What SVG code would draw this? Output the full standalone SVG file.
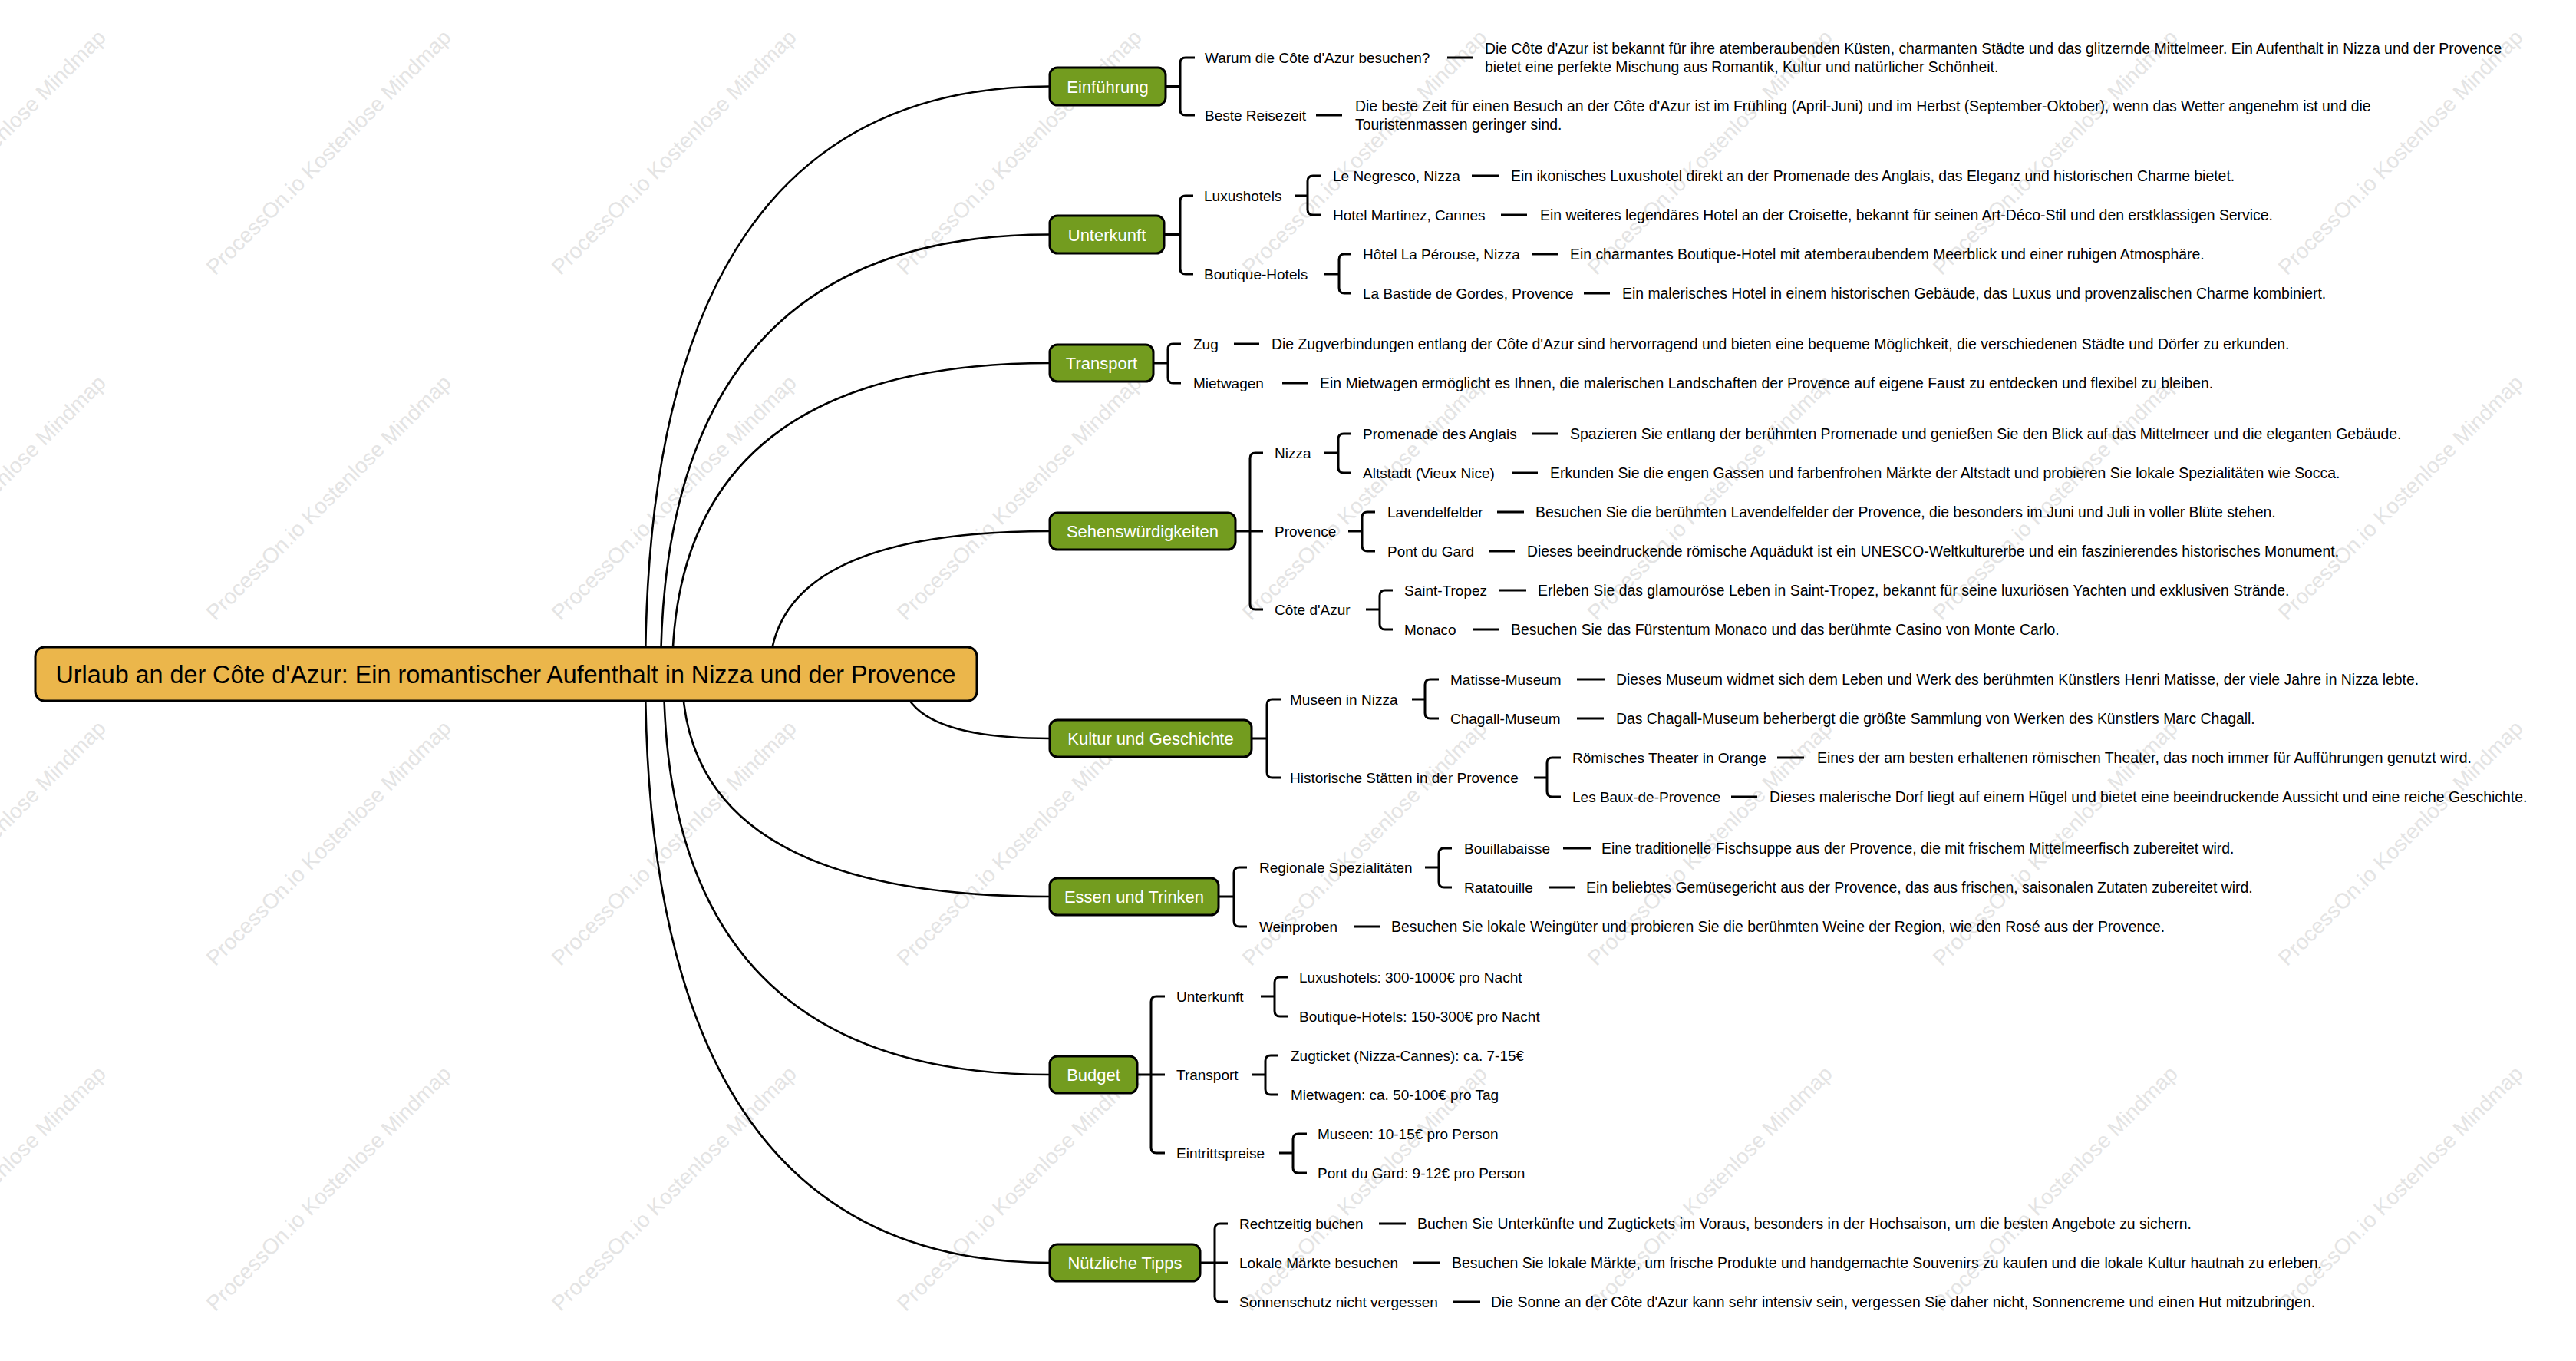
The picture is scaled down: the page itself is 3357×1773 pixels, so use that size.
<svg xmlns="http://www.w3.org/2000/svg" width="3357" height="1773" viewBox="0 0 3357 1773">
<style>
.bg{fill:#fff}
.wm{font-family:"Liberation Sans",Arial,sans-serif;font-size:28px;fill:#e4e4e4;text-anchor:middle}
.cv{fill:none;stroke:#000;stroke-width:2.6}
.ln{fill:none;stroke:#000;stroke-width:3}
.t{font-family:"Liberation Sans",Arial,sans-serif;font-size:19px;fill:#000}
.d{font-family:"Liberation Sans",Arial,sans-serif;font-size:19.4px;fill:#000}
.bx{fill:#739C1F;stroke:#000;stroke-width:3}
.bt{font-family:"Liberation Sans",Arial,sans-serif;font-size:22px;fill:#fff;text-anchor:middle}
.rx{fill:#EBB64B;stroke:#000;stroke-width:3}
.rt{font-family:"Liberation Sans",Arial,sans-serif;font-size:32.3px;fill:#000;text-anchor:middle}
</style>
<defs>
<text id="wmt" class="wm">ProcessOn.io Kostenlose Mindmap</text>
</defs>
<rect class="bg" x="0" y="0" width="3357" height="1773"/>
<g id="watermarks">
<use href="#wmt" transform="translate(-15 205) rotate(-45)"/>
<use href="#wmt" transform="translate(435 205) rotate(-45)"/>
<use href="#wmt" transform="translate(885 205) rotate(-45)"/>
<use href="#wmt" transform="translate(1335 205) rotate(-45)"/>
<use href="#wmt" transform="translate(1785 205) rotate(-45)"/>
<use href="#wmt" transform="translate(2235 205) rotate(-45)"/>
<use href="#wmt" transform="translate(2685 205) rotate(-45)"/>
<use href="#wmt" transform="translate(3135 205) rotate(-45)"/>
<use href="#wmt" transform="translate(-15 655) rotate(-45)"/>
<use href="#wmt" transform="translate(435 655) rotate(-45)"/>
<use href="#wmt" transform="translate(885 655) rotate(-45)"/>
<use href="#wmt" transform="translate(1335 655) rotate(-45)"/>
<use href="#wmt" transform="translate(1785 655) rotate(-45)"/>
<use href="#wmt" transform="translate(2235 655) rotate(-45)"/>
<use href="#wmt" transform="translate(2685 655) rotate(-45)"/>
<use href="#wmt" transform="translate(3135 655) rotate(-45)"/>
<use href="#wmt" transform="translate(-15 1105) rotate(-45)"/>
<use href="#wmt" transform="translate(435 1105) rotate(-45)"/>
<use href="#wmt" transform="translate(885 1105) rotate(-45)"/>
<use href="#wmt" transform="translate(1335 1105) rotate(-45)"/>
<use href="#wmt" transform="translate(1785 1105) rotate(-45)"/>
<use href="#wmt" transform="translate(2235 1105) rotate(-45)"/>
<use href="#wmt" transform="translate(2685 1105) rotate(-45)"/>
<use href="#wmt" transform="translate(3135 1105) rotate(-45)"/>
<use href="#wmt" transform="translate(-15 1555) rotate(-45)"/>
<use href="#wmt" transform="translate(435 1555) rotate(-45)"/>
<use href="#wmt" transform="translate(885 1555) rotate(-45)"/>
<use href="#wmt" transform="translate(1335 1555) rotate(-45)"/>
<use href="#wmt" transform="translate(1785 1555) rotate(-45)"/>
<use href="#wmt" transform="translate(2235 1555) rotate(-45)"/>
<use href="#wmt" transform="translate(2685 1555) rotate(-45)"/>
<use href="#wmt" transform="translate(3135 1555) rotate(-45)"/>
</g>
<g id="connectors">
<path class="cv" d="M841 878 Q841 112.5 1368 112.5"/>
<path class="cv" d="M861 878 Q861 305.5 1368 305.5"/>
<path class="cv" d="M876 878 Q876 473 1368 473"/>
<path class="cv" d="M1003 878 Q1003 692 1368 692"/>
<path class="cv" d="M1175 878 Q1175 962 1368 962"/>
<path class="cv" d="M889 878 Q889 1168 1368 1168"/>
<path class="cv" d="M865 878 Q865 1400 1368 1400"/>
<path class="cv" d="M841 878 Q841 1645 1368 1645"/>
<path class="ln" d="M1519 112.5H1538M1557 75H1545Q1538 75 1538 82V143Q1538 150 1545 150H1557"/>
<path class="ln" d="M1886 75H1920M1715 150H1749"/>
<path class="ln" d="M1517 305.5H1538M1555 255H1545Q1538 255 1538 262V350Q1538 357 1545 357H1555"/>
<path class="ln" d="M1687 255H1704M1721 229H1711Q1704 229 1704 236V273Q1704 280 1711 280H1721"/>
<path class="ln" d="M1726 357H1745M1761 331H1752Q1745 331 1745 338V375Q1745 382 1752 382H1761"/>
<path class="ln" d="M1918 229H1953M1956 280H1990M1997 331H2031M2064 382H2098"/>
<path class="ln" d="M1503 473H1522M1539 448H1529Q1522 448 1522 455V492Q1522 499 1529 499H1539"/>
<path class="ln" d="M1608 448H1641M1671 499H1704"/>
<path class="ln" d="M1610 692H1629M1646 590H1636Q1629 590 1629 597V787Q1629 794 1636 794H1646M1629 692H1646"/>
<path class="ln" d="M1726 590H1744M1761 565H1751Q1744 565 1744 572V609Q1744 616 1751 616H1761"/>
<path class="ln" d="M1757 692H1775M1792 667H1782Q1775 667 1775 674V711Q1775 718 1782 718H1792"/>
<path class="ln" d="M1780 794H1798M1815 769H1805Q1798 769 1798 776V813Q1798 820 1805 820H1815"/>
<path class="ln" d="M1997 565H2031M1970 616H2004M1951 667H1986M1940 718H1974M1954 769H1989M1919 820H1953"/>
<path class="ln" d="M1631 962H1651M1669 911H1658Q1651 911 1651 918V1006Q1651 1013 1658 1013H1669"/>
<path class="ln" d="M1840 911H1857M1875 885H1864Q1857 885 1857 892V929Q1857 936 1864 936H1875"/>
<path class="ln" d="M1999 1013H2016M2034 987H2023Q2016 987 2016 994V1031Q2016 1038 2023 1038H2034"/>
<path class="ln" d="M2055 885H2091M2055 936H2090M2316 987H2351M2256 1038H2290"/>
<path class="ln" d="M1588 1168H1608M1625 1130H1615Q1608 1130 1608 1137V1200Q1608 1207 1615 1207H1625"/>
<path class="ln" d="M1857 1130H1875M1892 1105H1882Q1875 1105 1875 1112V1149Q1875 1156 1882 1156H1892"/>
<path class="ln" d="M2037 1105H2073M2018 1156H2053M1764 1207H1799"/>
<path class="ln" d="M1482 1400H1500M1518 1298H1507Q1500 1298 1500 1305V1495Q1500 1502 1507 1502H1518M1500 1400H1518"/>
<path class="ln" d="M1643 1298H1661M1679 1273H1668Q1661 1273 1661 1280V1317Q1661 1324 1668 1324H1679"/>
<path class="ln" d="M1631 1400H1649M1666 1375H1656Q1649 1375 1649 1382V1419Q1649 1426 1656 1426H1666"/>
<path class="ln" d="M1667 1502H1685M1703 1477H1692Q1685 1477 1685 1484V1521Q1685 1528 1692 1528H1703"/>
<path class="ln" d="M1564 1645H1583M1600 1594H1590Q1583 1594 1583 1601V1689Q1583 1696 1590 1696H1600M1583 1645H1600"/>
<path class="ln" d="M1797 1594H1832M1842 1645H1877M1894 1696H1929"/>
</g>
<g id="root"><rect class="rx" x="46" y="843" width="1227" height="70" rx="12"/><text class="rt" x="659" y="889.5">Urlaub an der Côte d'Azur: Ein romantischer Aufenthalt in Nizza und der Provence</text></g>
<g id="b-einfuehrung"><rect class="bx" x="1368" y="88" width="151" height="49" rx="10"/><text class="bt" x="1443.5" y="120.5">Einführung</text></g>
<g id="b-unterkunft"><rect class="bx" x="1368" y="281" width="149" height="49" rx="10"/><text class="bt" x="1442.5" y="313.5">Unterkunft</text></g>
<g id="b-transport"><rect class="bx" x="1368" y="449" width="135" height="48" rx="10"/><text class="bt" x="1435.5" y="481">Transport</text></g>
<g id="b-sehens"><rect class="bx" x="1368" y="668" width="242" height="48" rx="10"/><text class="bt" x="1489" y="700">Sehenswürdigkeiten</text></g>
<g id="b-kultur"><rect class="bx" x="1368" y="938" width="263" height="48" rx="10"/><text class="bt" x="1499.5" y="970">Kultur und Geschichte</text></g>
<g id="b-essen"><rect class="bx" x="1368" y="1144" width="220" height="48" rx="10"/><text class="bt" x="1478" y="1176">Essen und Trinken</text></g>
<g id="b-budget"><rect class="bx" x="1368" y="1376" width="114" height="48" rx="10"/><text class="bt" x="1425" y="1408">Budget</text></g>
<g id="b-tipps"><rect class="bx" x="1368" y="1621" width="196" height="48" rx="10"/><text class="bt" x="1466" y="1653">Nützliche Tipps</text></g>

<g id="n-warum"><text class="t" x="1570" y="82">Warum die Côte d'Azur besuchen?</text></g>
<g id="d-warum"><text class="d" x="1935" y="70">Die Côte d'Azur ist bekannt für ihre atemberaubenden Küsten, charmanten Städte und das glitzernde Mittelmeer. Ein Aufenthalt in Nizza und der Provence</text><text class="d" x="1935" y="94">bietet eine perfekte Mischung aus Romantik, Kultur und natürlicher Schönheit.</text></g>
<g id="n-beste"><text class="t" x="1570" y="157">Beste Reisezeit</text></g>
<g id="d-beste"><text class="d" x="1766" y="145">Die beste Zeit für einen Besuch an der Côte d'Azur ist im Frühling (April-Juni) und im Herbst (September-Oktober), wenn das Wetter angenehm ist und die</text><text class="d" x="1766" y="169">Touristenmassen geringer sind.</text></g>

<g id="n-luxus"><text class="t" x="1569" y="262">Luxushotels</text></g>
<g id="n-negresco"><text class="t" x="1737" y="236">Le Negresco, Nizza</text></g>
<g id="d-negresco"><text class="d" x="1969" y="236">Ein ikonisches Luxushotel direkt an der Promenade des Anglais, das Eleganz und historischen Charme bietet.</text></g>
<g id="n-martinez"><text class="t" x="1737" y="287">Hotel Martinez, Cannes</text></g>
<g id="d-martinez"><text class="d" x="2007" y="287">Ein weiteres legendäres Hotel an der Croisette, bekannt für seinen Art-Déco-Stil und den erstklassigen Service.</text></g>
<g id="n-boutique"><text class="t" x="1569" y="364">Boutique-Hotels</text></g>
<g id="n-perouse"><text class="t" x="1776" y="338">Hôtel La Pérouse, Nizza</text></g>
<g id="d-perouse"><text class="d" x="2046" y="338">Ein charmantes Boutique-Hotel mit atemberaubendem Meerblick und einer ruhigen Atmosphäre.</text></g>
<g id="n-bastide"><text class="t" x="1776" y="389">La Bastide de Gordes, Provence</text></g>
<g id="d-bastide"><text class="d" x="2114" y="389">Ein malerisches Hotel in einem historischen Gebäude, das Luxus und provenzalischen Charme kombiniert.</text></g>

<g id="n-zug"><text class="t" x="1555" y="455">Zug</text></g>
<g id="d-zug"><text class="d" x="1657" y="455">Die Zugverbindungen entlang der Côte d'Azur sind hervorragend und bieten eine bequeme Möglichkeit, die verschiedenen Städte und Dörfer zu erkunden.</text></g>
<g id="n-mietwagen"><text class="t" x="1555" y="506">Mietwagen</text></g>
<g id="d-mietwagen"><text class="d" x="1720" y="506">Ein Mietwagen ermöglicht es Ihnen, die malerischen Landschaften der Provence auf eigene Faust zu entdecken und flexibel zu bleiben.</text></g>

<g id="n-nizza"><text class="t" x="1661" y="597">Nizza</text></g>
<g id="n-promenade"><text class="t" x="1776" y="572">Promenade des Anglais</text></g>
<g id="d-promenade"><text class="d" x="2046" y="572">Spazieren Sie entlang der berühmten Promenade und genießen Sie den Blick auf das Mittelmeer und die eleganten Gebäude.</text></g>
<g id="n-altstadt"><text class="t" x="1776" y="623">Altstadt (Vieux Nice)</text></g>
<g id="d-altstadt"><text class="d" x="2020" y="623">Erkunden Sie die engen Gassen und farbenfrohen Märkte der Altstadt und probieren Sie lokale Spezialitäten wie Socca.</text></g>
<g id="n-provence"><text class="t" x="1661" y="699">Provence</text></g>
<g id="n-lavendel"><text class="t" x="1808" y="674">Lavendelfelder</text></g>
<g id="d-lavendel"><text class="d" x="2001" y="674">Besuchen Sie die berühmten Lavendelfelder der Provence, die besonders im Juni und Juli in voller Blüte stehen.</text></g>
<g id="n-pont"><text class="t" x="1808" y="725">Pont du Gard</text></g>
<g id="d-pont"><text class="d" x="1990" y="725">Dieses beeindruckende römische Aquädukt ist ein UNESCO-Weltkulturerbe und ein faszinierendes historisches Monument.</text></g>
<g id="n-cote"><text class="t" x="1661" y="801">Côte d'Azur</text></g>
<g id="n-tropez"><text class="t" x="1830" y="776">Saint-Tropez</text></g>
<g id="d-tropez"><text class="d" x="2004" y="776">Erleben Sie das glamouröse Leben in Saint-Tropez, bekannt für seine luxuriösen Yachten und exklusiven Strände.</text></g>
<g id="n-monaco"><text class="t" x="1830" y="827">Monaco</text></g>
<g id="d-monaco"><text class="d" x="1969" y="827">Besuchen Sie das Fürstentum Monaco und das berühmte Casino von Monte Carlo.</text></g>

<g id="n-museen"><text class="t" x="1681" y="918">Museen in Nizza</text></g>
<g id="n-matisse"><text class="t" x="1890" y="892">Matisse-Museum</text></g>
<g id="d-matisse"><text class="d" x="2106" y="892">Dieses Museum widmet sich dem Leben und Werk des berühmten Künstlers Henri Matisse, der viele Jahre in Nizza lebte.</text></g>
<g id="n-chagall"><text class="t" x="1890" y="943">Chagall-Museum</text></g>
<g id="d-chagall"><text class="d" x="2106" y="943">Das Chagall-Museum beherbergt die größte Sammlung von Werken des Künstlers Marc Chagall.</text></g>
<g id="n-historische"><text class="t" x="1681" y="1020">Historische Stätten in der Provence</text></g>
<g id="n-theater"><text class="t" x="2049" y="994">Römisches Theater in Orange</text></g>
<g id="d-theater"><text class="d" x="2368" y="994">Eines der am besten erhaltenen römischen Theater, das noch immer für Aufführungen genutzt wird.</text></g>
<g id="n-baux"><text class="t" x="2049" y="1045">Les Baux-de-Provence</text></g>
<g id="d-baux"><text class="d" x="2306" y="1045">Dieses malerische Dorf liegt auf einem Hügel und bietet eine beeindruckende Aussicht und eine reiche Geschichte.</text></g>

<g id="n-regional"><text class="t" x="1641" y="1137">Regionale Spezialitäten</text></g>
<g id="n-bouilla"><text class="t" x="1908" y="1112">Bouillabaisse</text></g>
<g id="d-bouilla"><text class="d" x="2087" y="1112">Eine traditionelle Fischsuppe aus der Provence, die mit frischem Mittelmeerfisch zubereitet wird.</text></g>
<g id="n-rata"><text class="t" x="1908" y="1163">Ratatouille</text></g>
<g id="d-rata"><text class="d" x="2067" y="1163">Ein beliebtes Gemüsegericht aus der Provence, das aus frischen, saisonalen Zutaten zubereitet wird.</text></g>
<g id="n-wein"><text class="t" x="1641" y="1214">Weinproben</text></g>
<g id="d-wein"><text class="d" x="1813" y="1214">Besuchen Sie lokale Weingüter und probieren Sie die berühmten Weine der Region, wie den Rosé aus der Provence.</text></g>

<g id="n-b-unterkunft"><text class="t" x="1533" y="1305">Unterkunft</text></g>
<g id="n-b-luxus"><text class="t" x="1693" y="1280">Luxushotels: 300-1000€ pro Nacht</text></g>
<g id="n-b-boutique"><text class="t" x="1693" y="1331">Boutique-Hotels: 150-300€ pro Nacht</text></g>
<g id="n-b-transport"><text class="t" x="1533" y="1407">Transport</text></g>
<g id="n-b-zug"><text class="t" x="1682" y="1382">Zugticket (Nizza-Cannes): ca. 7-15€</text></g>
<g id="n-b-miet"><text class="t" x="1682" y="1433">Mietwagen: ca. 50-100€ pro Tag</text></g>
<g id="n-b-eintritt"><text class="t" x="1533" y="1509">Eintrittspreise</text></g>
<g id="n-b-museen"><text class="t" x="1717" y="1484">Museen: 10-15€ pro Person</text></g>
<g id="n-b-pont"><text class="t" x="1717" y="1535">Pont du Gard: 9-12€ pro Person</text></g>

<g id="n-recht"><text class="t" x="1615" y="1601">Rechtzeitig buchen</text></g>
<g id="d-recht"><text class="d" x="1847" y="1601">Buchen Sie Unterkünfte und Zugtickets im Voraus, besonders in der Hochsaison, um die besten Angebote zu sichern.</text></g>
<g id="n-markt"><text class="t" x="1615" y="1652">Lokale Märkte besuchen</text></g>
<g id="d-markt"><text class="d" x="1892" y="1652">Besuchen Sie lokale Märkte, um frische Produkte und handgemachte Souvenirs zu kaufen und die lokale Kultur hautnah zu erleben.</text></g>
<g id="n-sonne"><text class="t" x="1615" y="1703">Sonnenschutz nicht vergessen</text></g>
<g id="d-sonne"><text class="d" x="1943" y="1703">Die Sonne an der Côte d'Azur kann sehr intensiv sein, vergessen Sie daher nicht, Sonnencreme und einen Hut mitzubringen.</text></g>
</svg>
